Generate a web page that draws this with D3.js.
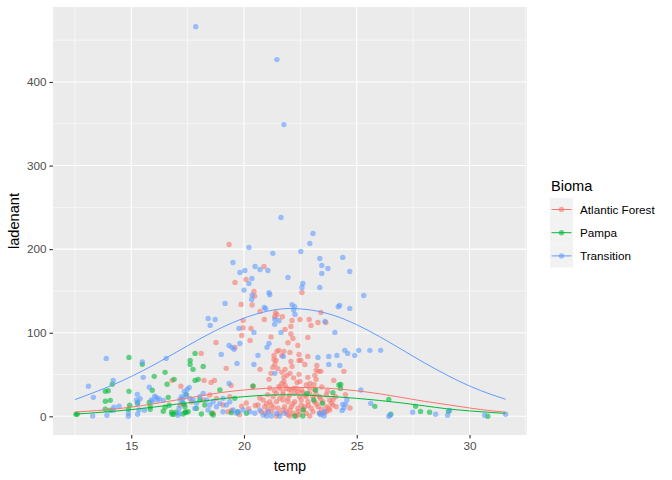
<!DOCTYPE html>
<html>
<head>
<meta charset="utf-8">
<script src="https://cdn.jsdelivr.net/npm/d3@7"></script>
<style>
  body { margin: 0; background: #fff; }
  svg { display: block; font-family: "Liberation Sans", Arial, sans-serif; }
</style>
</head>
<body>
<svg id="chart" width="672" height="480"></svg>
<script>
// points: [temp, ladenant]
const atlantic = [
  [19.34,205.6],[20.89,179.3],[20.09,163.8],[19.6,160.2],
  [20.44,149.4],[20.47,143.8],[22.57,148.2],[19.87,133.9],[20.36,133.1],[21.40,123.9],[21.46,121.5],[21.36,119.1],
  [20.71,125.5],[21.7,119.1],[23.41,124.3],[19.96,114.7],[20.9,115.9],[22.13,114.7],[22.48,115.9],[22.89,115.9],
  [23.28,112.3],[22.97,108.8],[23.63,112.3],[22.08,107.6],[19.96,106],[20.31,105.2],[21.82,104],[22.08,98.4],
  [22.17,93.2],[22.83,94.4],[19.9,96.8],[20.27,90.8],[18.76,88.4],[19.6,82.5],[22.39,84.8],[21.46,77.7],
  [21.55,78.9],[21.77,77.7],[22.04,76.5],[21.33,72.9],[21.33,68.1],[21.68,72.9],[22.44,74.1],[18.1,75.3],
  [22.83,71.7],[19.21,57.4],[20.71,56.2],[21.42,66.9],[21.37,62.1],[21.28,58.5],[22.08,65.7],[22.44,66.9],
  [22.52,66.9],[22.13,59.7],[21.82,56.2],[23.23,60.9],[21.2,51.4],[22.04,51.4],[21.68,52.6],[23.2,55],
  [23.32,53.8],[23.41,53.8],[24.43,53.8],[22.44,50.2],[22.83,46.6],[23.14,49],[23.2,44.2],[21.11,44.2],
  [21.77,46.6],[21.9,49],[21.77,41.8],[21.68,39.4],[22.35,40.6],[22.48,41.8],[22.92,39.4],[23.1,38.2],
  [23.98,43],[18.23,43],[18.54,40.6],[18.69,43],[19.43,37],[20.4,35.8],[21.55,35.8],[21.82,37],[16.81,43],
  [17.2,35.9],[22.0,32.2],[22.21,33.4],
  [21.58,33.5],[21.88,33.5],[22.1,31.5],[22.32,33.5],[22.54,31.5],[22.91,33.5],[23.13,31.5],[21.44,27.5],
  [21.73,25.5],[22.03,25.5],[22.25,27.5],[22.47,23.5],[22.69,25.5],[22.91,27.5],[23.35,23.5],[23.65,25.5],
  [20.85,19.5],[21.14,17.5],[21.44,17.5],[21.73,19.5],[21.95,17.5],[22.25,17.5],[22.54,19.5],[22.84,17.5],
  [23.13,17.5],[23.5,17.5],[23.8,19.5],[20.62,13.5],[20.92,11.5],[21.21,13.5],[21.51,9.6],[21.8,11.5],
  [22.1,11.5],[22.39,9.6],[22.69,11.5],[22.98,9.6],[23.28,11.5],[23.65,11.5],[23.94,13.5],[20.77,5.6],
  [21.21,5.6],[21.58,3.6],[21.88,5.6],[22.17,3.6],[22.39,5.6],[22.76,3.6],[23.06,5.6],[23.35,3.6],
  [23.65,5.6],[22.32,0.4],[22.03,0.4],[21.44,0.4],[22.91,0.4],[21.29,23.5],[21.58,21.5],[21.95,21.5],
  [22.17,14.7],[22.54,13.5],[23.21,14.7],[21.07,8.4],[22.03,7.6],[21.73,7.6],[22.62,8.4],[23.43,8.4],
  [23.8,7.6],[21.73,29.5],[22.39,29.5],[22.76,23.5],[23.06,23.5],[21.14,33.5],[24.06,23.5],[24.09,11.5],
  [17.16,13.5],[17.67,17.5],[18.19,19.5],[18.48,25.5],[18.78,21.5],[19.07,13.5],[19.29,5.5],[18.63,3.6],
  [19.37,23.5],[24.5,26],[24.7,10],[23.87,15.5],[19.45,7],[19.9,12],[20.2,9],[20.5,13],[19.8,2],[20.1,16],
  [17.35,14.3],
  [22.76,37.4],[23.45,35],[23.7,30],[23.95,20],[23.55,4],[23.2,26.5],[22.6,29],[21.35,30.5],[21.05,26],
  [20.7,22],[21.0,15],[21.3,10.5],[22.85,13],[23.4,21],[23.75,9.5],[22.45,2.2],[21.95,2],[20.95,3.8],
  [22.2,46],[21.5,57],[22.7,62],[21.95,88],[21.2,95]
];

const pampa = [
  [12.55,2.4],[12.6,2.6],[14.9,70.5],[13.85,29.9],[13.98,30.6],[14.16,38.3],[13.85,18],[14.07,19.1],
  [13.85,8.4],[14.07,7.2],[14.9,29.9],[14.93,13.2],[14.88,8.4],[15.28,16.3],[15.49,62.2],[15.8,16.7],
  [15.93,31.1],[16.02,47.8],[15.84,12],[15.84,8.4],[16.42,6],[16.5,52.6],[16.9,44.2],[16.59,38.3],
  [16.64,22.7],[16.68,13.2],[16.5,10.8],[16.79,4.8],[16.81,2.4],[16.9,2.4],[16.99,4.8],[17.43,26.3],
  [17.39,4.8],[17.43,4.8],
  [17.83,75.3],[17.61,66.9],[17.61,62.1],[17.74,56.2],[18.19,59.7],[17.83,43],[17.97,44.2],[24.29,38.2],
  [17.3,15.5],[17.38,11.5],[17.3,2.8],[17.52,5.5],[17.89,9.5],[18.04,19.5],[18.11,2.8],[18.26,13.5],
  [18.56,3.6],[18.63,1.6],[18.93,31.5],[19.44,4.4],
  [20.4,36.3],[22.79,27.5],[23.18,31.5],[23.94,28.3],[23.47,15.5],[23.09,19.5],[22.62,7.6],[22.25,0.4],
  [20.11,3.6],[19.59,21.5],[24.21,37.4],[22.61,0.4],[19.72,5.1],
  [24.28,33.4],[25.8,11.9],[26.42,20.3],[26.51,2.4],[27.61,11.9],[27.83,5.9],[28.23,4.8],[29.07,5.9],[30.81,0]
];

const transition = [
  [17.86,466.2],[21.46,426.8],[21.77,349],
  [21.64,237.9],[23.06,218.8],[22.92,206.8],[20.22,202],[22.52,197.2],[21.28,194.9],[23.36,188.9],[24.38,190.1],
  [19.51,184.1],[23.45,180.5],[20.49,179.3],[20.71,175.7],[21.06,174.5],[20.04,174.5],[19.82,172.1],[23.72,176.9],
  [24.69,173.3],[23.45,171],[20.35,165],[20.22,159],[21.95,166.2],[22.61,159],[22.57,154.2],[23.36,154.2],
  [20.0,151],[20.36,145],[20.34,139.8],[21.11,147.8],[21.14,145.4],[19.16,135.1],[20.9,130.3],[20.96,128.7],
  [22.13,133.5],[22.24,131.1],[22.2,127.1],[22.26,121.9],[24.24,132.7],[24.18,131.1],[24.69,129.1],[25.31,144.6],
  [18.41,117.1],[18.72,115.9],[18.5,108.8],[21.37,115.9],[21.55,114.3],[21.36,110],[23.59,113.5],[19.78,105.2],
  [20.44,100.4],[21.64,100.4],[24.03,100.4],[19.82,87.2],[19.34,84.8],[19.46,82.5],[19.56,80.1],[21.11,87.2],
  [21.02,82.5],[21.74,71.7],[18.99,74.1],[20.62,72.9],[23.28,70.5],[23.76,71.7],[24.12,72.9],[24.47,78.9],
  [24.6,75.3],[24.91,72.9],[25.09,78.9],[25.58,78.9],[26.06,78.9],[19.69,63.3],[20.44,62.1],[23.76,62.1],
  [24.25,60.9],[21.37,51.4],[19.34,39.4],[17.57,34.6],[17.48,32.2],[17.35,29.9],
  [25.18,31.4],[24.56,19.5],[24.38,14.3],[24.5,14.3],[24.43,9.9],[24.35,7.1],[25.62,15.5],[26.42,0],
  [26.48,1.2],[27.48,4.8],[28.5,2.4],[29.03,1.2],[29.12,7.1],[30.67,1.2],[31.6,2.4],
  [13.1,35.9],[13.32,22.7],[13.29,0.4],[13.89,69.3],[14.2,43],[13.92,1.2],[14.23,10.8],[14.46,12],
  [14.2,7.2],[14.88,3.6],[14.87,0],[15.27,26.3],[15.24,19.5],[15.28,15.1],[15.49,64.9],[15.53,46.6],
  [15.39,21],[15.34,7.5],[15.28,2.4],[15.58,7.2],[15.8,34.7],[15.93,18],[16.04,24],[16.11,22.7],
  [15.89,19.5],[16.15,19.5],[16.24,21],[16.42,19.1],[16.55,69.3],[17.08,1.2],[17.12,3.6],[17.17,20.3],
  [17.26,16.7],[17.12,9.6],
  [17.23,23.5],[17.3,21.5],[17.45,25.5],[17.6,21.5],[17.74,19.5],[17.89,15.5],[18.04,23.5],[18.19,27.5],
  [18.34,19.5],[18.48,13.5],[18.63,17.5],[18.78,11.5],[18.93,15.5],[19.07,21.5],[19.22,13.5],[19.37,17.5],
  [17.82,9.5],[18.41,7.5],[19.07,5.5],
  [19.52,7.6],[19.74,5.6],[19.96,7.6],[20.26,5.6],[20.48,3.6],[20.7,7.6],[20.85,1.6],[21.07,5.6],
  [21.21,0.4],[21.44,3.6],[21.58,0.4],[21.8,3.6],[23.35,3.6],[23.57,5.6],[19.67,3.6],[21.0,0.4],
  [23.4,2],[23.55,0.5]
];

// smooth curves, read at these temps
const fitTemp       = [12.5, 13, 14, 15, 16, 17, 18, 19, 20, 21, 22, 23, 24, 25, 26, 27, 28, 29, 30, 31, 31.6];
const atlanticFit   = [5, 6, 8, 11, 15, 19.5, 24, 28.5, 31.5, 33.5, 34.5, 34.5, 33, 30.5, 27, 22.5, 18, 14, 10, 6.5, 5];
const pampaFit      = [2.7, 3.5, 5.5, 8, 11, 14.5, 17.5, 21, 23.5, 25.3, 25.8, 25, 23.5, 21.5, 19, 16, 12.5, 9, 6.5, 4.5, 3.5];
const transitionFit = [20, 25, 35.5, 47.6, 61.5, 76.7, 92, 106, 117.5, 125.5, 129, 127, 120.6, 109.6, 95.5, 79.8, 64, 49.3, 36.3, 25.8, 20.4];

const xTicks = [15, 20, 25, 30];
const yTicks = [0, 100, 200, 300, 400];
const xMinor = [12.5, 17.5, 22.5, 27.5, 32.5];
const yMinor = [50, 150, 250, 350, 450];

const groups = ['Atlantic Forest', 'Pampa', 'Transition'];
const colors = ['#F8766D', '#00BA38', '#619CFF'];

const svg = d3.select('#chart');
const pLeft = 53, pRight = 527, pTop = 7, pBottom = 435;

const x = d3.scaleLinear().domain([11.53, 32.55]).range([pLeft, pRight]);
const y = d3.scaleLinear().domain([-22.35, 489.7]).range([pBottom, pTop]);

// panel
svg.append('rect')
  .attr('x', pLeft).attr('y', pTop)
  .attr('width', pRight - pLeft).attr('height', pBottom - pTop)
  .attr('fill', '#EBEBEB');

const grid = svg.append('g');
grid.selectAll('.xmin').data(xMinor).enter().append('line')
  .attr('x1', d => x(d)).attr('x2', d => x(d)).attr('y1', pTop).attr('y2', pBottom)
  .attr('stroke', '#fff').attr('stroke-width', 0.55);
grid.selectAll('.ymin').data(yMinor).enter().append('line')
  .attr('y1', d => y(d)).attr('y2', d => y(d)).attr('x1', pLeft).attr('x2', pRight)
  .attr('stroke', '#fff').attr('stroke-width', 0.55);
grid.selectAll('.xmaj').data(xTicks).enter().append('line')
  .attr('x1', d => x(d)).attr('x2', d => x(d)).attr('y1', pTop).attr('y2', pBottom)
  .attr('stroke', '#fff').attr('stroke-width', 1.1);
grid.selectAll('.ymaj').data(yTicks).enter().append('line')
  .attr('y1', d => y(d)).attr('y2', d => y(d)).attr('x1', pLeft).attr('x2', pRight)
  .attr('stroke', '#fff').attr('stroke-width', 1.1);

// points
svg.append('clipPath').attr('id', 'clip')
  .append('rect').attr('x', pLeft).attr('y', pTop).attr('width', pRight - pLeft).attr('height', pBottom - pTop);
const plot = svg.append('g')
  .attr('clip-path', 'url(#clip)');

[atlantic, pampa, transition].forEach(function (pts, i) {
  plot.append('g').selectAll('circle')
    .data(pts)
    .enter()
    .append('circle')
    .attr('cx', d => x(d[0]))
    .attr('cy', d => y(d[1]))
    .attr('r', 2.7)
    .attr('fill', colors[i])
    .attr('fill-opacity', 0.6);
});

// smooth lines
const line = d3.line()
  .x(d => x(d[0]))
  .y(d => y(d[1]))
  .curve(d3.curveMonotoneX);

[atlanticFit, pampaFit, transitionFit].forEach(function (vals, i) {
  plot.append('path')
    .datum(fitTemp.map((t, j) => [t, vals[j]]))
    .attr('d', line)
    .attr('fill', 'none')
    .attr('stroke', colors[i])
    .attr('stroke-width', 1);
});

// axes
const xAxis = svg.append('g')
  .attr('transform', 'translate(0,' + pBottom + ')')
  .call(d3.axisBottom(x).tickValues(xTicks).tickSize(3.6).tickPadding(3));
const yAxis = svg.append('g')
  .attr('transform', 'translate(' + pLeft + ',0)')
  .call(d3.axisLeft(y).tickValues(yTicks).tickSize(3.6).tickPadding(3));

[xAxis, yAxis].forEach(function (a) {
  a.select('.domain').remove();
  a.selectAll('line').attr('stroke', '#333333').attr('stroke-width', 1.1);
  a.selectAll('text')
    .attr('fill', '#4D4D4D')
    .style('font-size', '11.7px')
    .style('font-family', '"Liberation Sans", Arial, sans-serif');
});

// axis titles
svg.append('text')
  .attr('x', (pLeft + pRight) / 2)
  .attr('y', 471)
  .attr('text-anchor', 'middle')
  .style('font-size', '14.6px')
  .text('temp');

svg.append('text')
  .attr('text-anchor', 'middle')
  .attr('transform', 'translate(19,' + (pTop + pBottom) / 2 + ')rotate(-90)')
  .style('font-size', '14.6px')
  .text('ladenant');

// legend
const legend = svg.append('g').attr('transform', 'translate(550,0)');
legend.append('text')
  .attr('x', 1).attr('y', 191)
  .style('font-size', '14.6px')
  .text('Bioma');

groups.forEach(function (g, i) {
  const cy = 209.5 + i * 23.2;
  legend.append('rect')
    .attr('x', 0).attr('y', cy - 11.6)
    .attr('width', 23).attr('height', 23.2)
    .attr('fill', '#F2F2F2');
  legend.append('line')
    .attr('x1', 1.5).attr('x2', 21.5).attr('y1', cy).attr('y2', cy)
    .attr('stroke', colors[i]).attr('stroke-width', 1);
  legend.append('circle')
    .attr('cx', 11.5).attr('cy', cy).attr('r', 2.7)
    .attr('fill', colors[i]).attr('fill-opacity', 0.6);
  legend.append('text')
    .attr('x', 30).attr('y', cy + 4.2)
    .style('font-size', '11.7px')
    .text(g);
});
</script>
</body>
</html>
